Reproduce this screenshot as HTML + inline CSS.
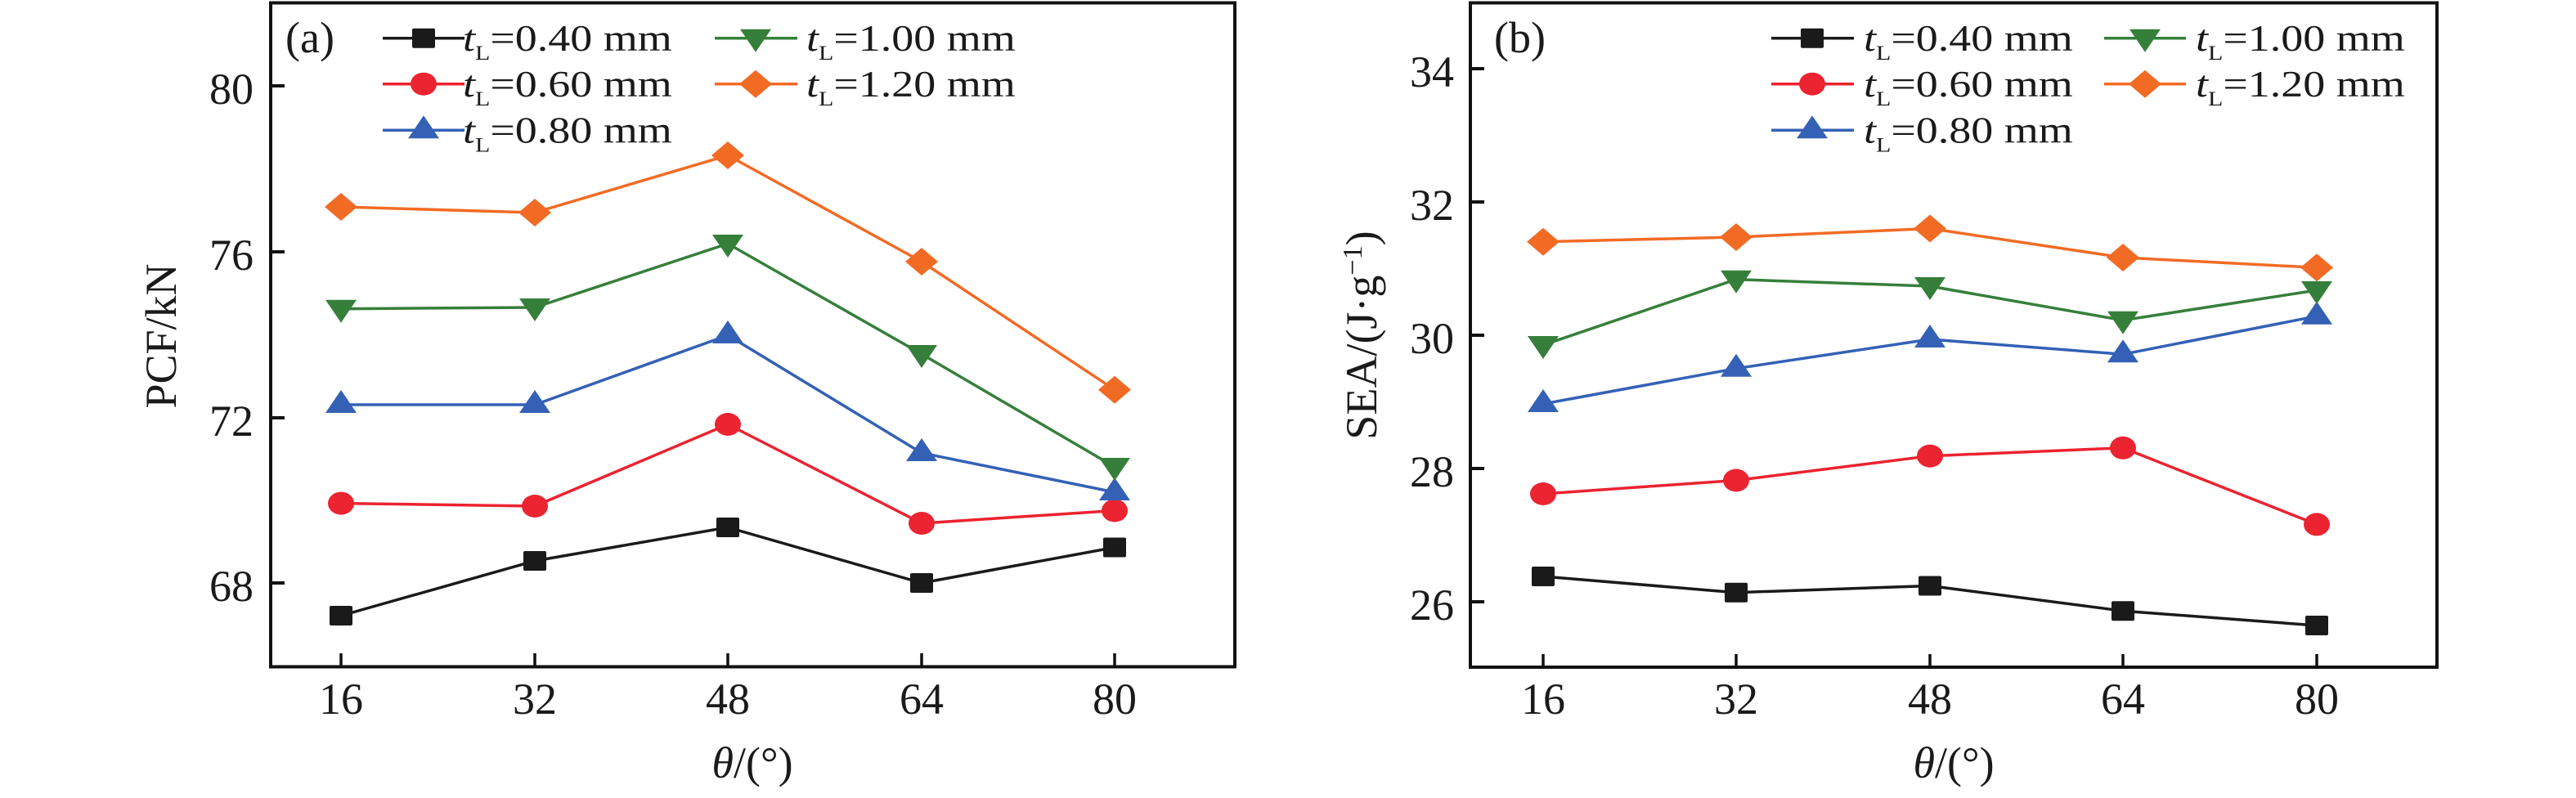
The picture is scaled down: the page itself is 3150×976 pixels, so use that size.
<!DOCTYPE html>
<html>
<head>
<meta charset="utf-8">
<style>
html,body{margin:0;padding:0;background:#fff;}
svg{display:block;}
text{font-family:"Liberation Serif","Times New Roman",serif;fill:#1a1a1a;}
</style>
</head>
<body>
<svg width="3150" height="976" viewBox="0 0 3150 976" xmlns="http://www.w3.org/2000/svg">
<defs>
  <rect id="sqB" x="-14" y="-12" width="28" height="24" rx="2" fill="#1a1a1a"/>
  <ellipse id="ciR" rx="16" ry="14" fill="#ec2330"/>
  <polygon id="tuB" points="0,-18 19,10 -19,10" fill="#3461b6"/>
  <polygon id="tdG" points="-19,-11 19,-11 0,17" fill="#367f3b"/>
  <polygon id="diO" points="0,-17 20,0 0,17 -20,0" fill="#f26b24"/>
</defs>
<rect width="3150" height="976" fill="#fff"/>

<!-- ============ PANEL (a) ============ -->
<g fill="none" stroke="#111" stroke-width="4">
  <rect x="331" y="3.5" width="1179" height="812"/>
  <!-- y ticks -->
  <line x1="331" y1="105" x2="348" y2="105"/>
  <line x1="331" y1="308" x2="348" y2="308"/>
  <line x1="331" y1="511" x2="348" y2="511"/>
  <line x1="331" y1="713" x2="348" y2="713"/>
</g>
<g stroke="#111" stroke-width="3.5">
  <line x1="417" y1="815" x2="417" y2="799"/>
  <line x1="654" y1="815" x2="654" y2="799"/>
  <line x1="890" y1="815" x2="890" y2="799"/>
  <line x1="1127" y1="815" x2="1127" y2="799"/>
  <line x1="1363" y1="815" x2="1363" y2="799"/>
</g>
<g font-size="54" text-anchor="end">
  <text x="310" y="127">80</text>
  <text x="310" y="330">76</text>
  <text x="310" y="533">72</text>
  <text x="310" y="735">68</text>
</g>
<g font-size="54" text-anchor="middle">
  <text x="417" y="873">16</text>
  <text x="654" y="873">32</text>
  <text x="890" y="873">48</text>
  <text x="1127" y="873">64</text>
  <text x="1363" y="873">80</text>
  <text x="920" y="951"><tspan font-style="italic">θ</tspan>/(°)</text>
</g>
<text font-size="54" text-anchor="middle" transform="translate(215,411) rotate(-90)">PCF/kN</text>
<text font-size="54" x="349" y="64">(a)</text>

<!-- series (a) -->
<g fill="none" stroke-width="3.5" stroke-linejoin="round">
  <polyline stroke="#1a1a1a" points="417,753 654,686 890,645 1127,713 1363,669.5"/>
  <polyline stroke="#ec2330" points="417,615.6 654,619 890,519 1127,640 1363,624.5"/>
  <polyline stroke="#3461b6" points="417,495 654,495 890,410 1127,554 1363,602"/>
  <polyline stroke="#367f3b" points="417,377.7 654,376 890,298 1127,433 1363,571"/>
  <polyline stroke="#f26b24" points="417,253 654,260 890,190 1127,320 1363,476.7"/>
</g>
<use href="#sqB" x="417" y="753"/><use href="#sqB" x="654" y="686"/><use href="#sqB" x="890" y="645"/><use href="#sqB" x="1127" y="713"/><use href="#sqB" x="1363" y="669.5"/>
<use href="#ciR" x="417" y="615.6"/><use href="#ciR" x="654" y="619"/><use href="#ciR" x="890" y="519"/><use href="#ciR" x="1127" y="640"/><use href="#ciR" x="1363" y="624.5"/>
<use href="#tuB" x="417" y="495"/><use href="#tuB" x="654" y="495"/><use href="#tuB" x="890" y="410"/><use href="#tuB" x="1127" y="554"/><use href="#tuB" x="1363" y="602"/>
<use href="#tdG" x="417" y="377.7"/><use href="#tdG" x="654" y="376"/><use href="#tdG" x="890" y="298"/><use href="#tdG" x="1127" y="433"/><use href="#tdG" x="1363" y="571"/>
<use href="#diO" x="417" y="253"/><use href="#diO" x="654" y="260"/><use href="#diO" x="890" y="190"/><use href="#diO" x="1127" y="320"/><use href="#diO" x="1363" y="476.7"/>

<!-- legend (a) -->
<g stroke-width="3.5">
  <line x1="468" y1="46.7" x2="568" y2="46.7" stroke="#1a1a1a"/>
  <line x1="468" y1="102.7" x2="568" y2="102.7" stroke="#ec2330"/>
  <line x1="468" y1="159.3" x2="568" y2="159.3" stroke="#3461b6"/>
  <line x1="874" y1="46.7" x2="975" y2="46.7" stroke="#367f3b"/>
  <line x1="874" y1="102.7" x2="975" y2="102.7" stroke="#f26b24"/>
</g>
<use href="#sqB" x="518" y="46.7"/>
<use href="#ciR" x="518" y="102.7"/>
<use href="#tuB" x="518" y="159.3"/>
<use href="#tdG" x="924" y="46.7"/>
<use href="#diO" x="924" y="102.7"/>
<g font-size="45">
  <text transform="translate(566,62) scale(1.2,1)"><tspan font-style="italic">t</tspan><tspan font-size="25" dy="11">L</tspan><tspan dy="-11">=0.40 mm</tspan></text>
  <text transform="translate(566,118) scale(1.2,1)"><tspan font-style="italic">t</tspan><tspan font-size="25" dy="11">L</tspan><tspan dy="-11">=0.60 mm</tspan></text>
  <text transform="translate(566,174.5) scale(1.2,1)"><tspan font-style="italic">t</tspan><tspan font-size="25" dy="11">L</tspan><tspan dy="-11">=0.80 mm</tspan></text>
  <text transform="translate(986,62) scale(1.2,1)"><tspan font-style="italic">t</tspan><tspan font-size="25" dy="11">L</tspan><tspan dy="-11">=1.00 mm</tspan></text>
  <text transform="translate(986,118) scale(1.2,1)"><tspan font-style="italic">t</tspan><tspan font-size="25" dy="11">L</tspan><tspan dy="-11">=1.20 mm</tspan></text>
</g>

<!-- ============ PANEL (b) ============ -->
<g fill="none" stroke="#111" stroke-width="4">
  <rect x="1798" y="3.5" width="1182" height="812.5"/>
  <line x1="1798" y1="84" x2="1815" y2="84"/>
  <line x1="1798" y1="247" x2="1815" y2="247"/>
  <line x1="1798" y1="410" x2="1815" y2="410"/>
  <line x1="1798" y1="573" x2="1815" y2="573"/>
  <line x1="1798" y1="736" x2="1815" y2="736"/>
</g>
<g stroke="#111" stroke-width="3.5">
  <line x1="1887" y1="816" x2="1887" y2="800"/>
  <line x1="2123" y1="816" x2="2123" y2="800"/>
  <line x1="2360" y1="816" x2="2360" y2="800"/>
  <line x1="2596" y1="816" x2="2596" y2="800"/>
  <line x1="2833" y1="816" x2="2833" y2="800"/>
</g>
<g font-size="54" text-anchor="end">
  <text x="1778" y="106">34</text>
  <text x="1778" y="269">32</text>
  <text x="1778" y="432">30</text>
  <text x="1778" y="595">28</text>
  <text x="1778" y="758">26</text>
</g>
<g font-size="54" text-anchor="middle">
  <text x="1887" y="873">16</text>
  <text x="2123" y="873">32</text>
  <text x="2360" y="873">48</text>
  <text x="2596" y="873">64</text>
  <text x="2833" y="873">80</text>
  <text x="2389" y="951"><tspan font-style="italic">θ</tspan>/(°)</text>
</g>
<text font-size="54" text-anchor="middle" transform="translate(1683,410) rotate(-90)">SEA/(J·g<tspan font-size="34" dy="-18">−1</tspan><tspan dy="18">)</tspan></text>
<text font-size="54" x="1827" y="64">(b)</text>

<!-- series (b) -->
<g fill="none" stroke-width="3.5" stroke-linejoin="round">
  <polyline stroke="#1a1a1a" points="1887,705 2123,724.7 2360,716.5 2596,747.2 2833,765"/>
  <polyline stroke="#ec2330" points="1887,604 2123,587.5 2360,557.7 2596,547.8 2833,641.4"/>
  <polyline stroke="#3461b6" points="1887,494 2123,450.7 2360,415 2596,433.3 2833,386.7"/>
  <polyline stroke="#367f3b" points="1887,422 2123,341.7 2360,350 2596,391.7 2833,355"/>
  <polyline stroke="#f26b24" points="1887,295.7 2123,290 2360,279.5 2596,315 2833,327.3"/>
</g>
<use href="#sqB" x="1887" y="705"/><use href="#sqB" x="2123" y="724.7"/><use href="#sqB" x="2360" y="716.5"/><use href="#sqB" x="2596" y="747.2"/><use href="#sqB" x="2833" y="765"/>
<use href="#ciR" x="1887" y="604"/><use href="#ciR" x="2123" y="587.5"/><use href="#ciR" x="2360" y="557.7"/><use href="#ciR" x="2596" y="547.8"/><use href="#ciR" x="2833" y="641.4"/>
<use href="#tuB" x="1887" y="494"/><use href="#tuB" x="2123" y="450.7"/><use href="#tuB" x="2360" y="415"/><use href="#tuB" x="2596" y="433.3"/><use href="#tuB" x="2833" y="386.7"/>
<use href="#tdG" x="1887" y="422"/><use href="#tdG" x="2123" y="341.7"/><use href="#tdG" x="2360" y="350"/><use href="#tdG" x="2596" y="391.7"/><use href="#tdG" x="2833" y="355"/>
<use href="#diO" x="1887" y="295.7"/><use href="#diO" x="2123" y="290"/><use href="#diO" x="2360" y="279.5"/><use href="#diO" x="2596" y="315"/><use href="#diO" x="2833" y="327.3"/>

<!-- legend (b) -->
<g stroke-width="3.5">
  <line x1="2166" y1="46.7" x2="2267" y2="46.7" stroke="#1a1a1a"/>
  <line x1="2166" y1="102.7" x2="2267" y2="102.7" stroke="#ec2330"/>
  <line x1="2166" y1="159.3" x2="2267" y2="159.3" stroke="#3461b6"/>
  <line x1="2573" y1="46.7" x2="2673" y2="46.7" stroke="#367f3b"/>
  <line x1="2573" y1="102.7" x2="2673" y2="102.7" stroke="#f26b24"/>
</g>
<use href="#sqB" x="2216" y="46.7"/>
<use href="#ciR" x="2216" y="102.7"/>
<use href="#tuB" x="2216" y="159.3"/>
<use href="#tdG" x="2623" y="46.7"/>
<use href="#diO" x="2623" y="102.7"/>
<g font-size="45">
  <text transform="translate(2279,62) scale(1.2,1)"><tspan font-style="italic">t</tspan><tspan font-size="25" dy="11">L</tspan><tspan dy="-11">=0.40 mm</tspan></text>
  <text transform="translate(2279,118) scale(1.2,1)"><tspan font-style="italic">t</tspan><tspan font-size="25" dy="11">L</tspan><tspan dy="-11">=0.60 mm</tspan></text>
  <text transform="translate(2279,174.5) scale(1.2,1)"><tspan font-style="italic">t</tspan><tspan font-size="25" dy="11">L</tspan><tspan dy="-11">=0.80 mm</tspan></text>
  <text transform="translate(2685,62) scale(1.2,1)"><tspan font-style="italic">t</tspan><tspan font-size="25" dy="11">L</tspan><tspan dy="-11">=1.00 mm</tspan></text>
  <text transform="translate(2685,118) scale(1.2,1)"><tspan font-style="italic">t</tspan><tspan font-size="25" dy="11">L</tspan><tspan dy="-11">=1.20 mm</tspan></text>
</g>
</svg>
</body>
</html>
